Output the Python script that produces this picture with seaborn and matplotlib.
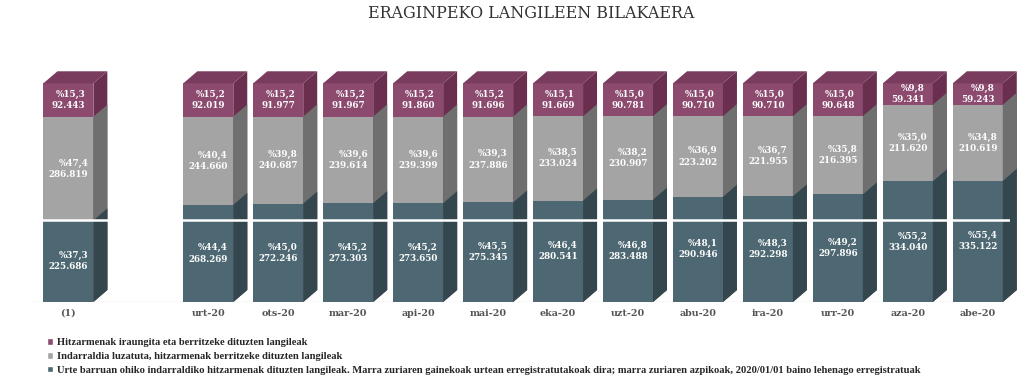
import pandas as pd
import matplotlib.pyplot as plt
import seaborn as sns
from matplotlib.patches import Polygon, Patch

# --- data ---
months = ["(1)", "urt-20", "ots-20", "mar-20", "api-20", "mai-20", "eka-20",
          "uzt-20", "abu-20", "ira-20", "urr-20", "aza-20", "abe-20"]
order = ["(1)", " "] + months[1:]

ohiko_n = [225686, 268269, 272246, 273303, 273650, 275345, 280541,
           283488, 290946, 292298, 297896, 334040, 335122]
ohiko_pct = [37.3, 44.4, 45.0, 45.2, 45.2, 45.5, 46.4, 46.8, 48.1, 48.3, 49.2, 55.2, 55.4]
luzatuta_n = [286819, 244660, 240687, 239614, 239399, 237886, 233024,
              230907, 223202, 221955, 216395, 211620, 210619]
luzatuta_pct = [47.4, 40.4, 39.8, 39.6, 39.6, 39.3, 38.5, 38.2, 36.9, 36.7, 35.8, 35.0, 34.8]
iraungita_n = [92443, 92019, 91977, 91967, 91860, 91696, 91669,
               90781, 90710, 90710, 90648, 59341, 59243]
iraungita_pct = [15.3, 15.2, 15.2, 15.2, 15.2, 15.2, 15.1, 15.0, 15.0, 15.0, 15.0, 9.8, 9.8]

labels = ["Hitzarmenak iraungita eta berritzeke dituzten langileak",
          "Indarraldia luzatuta, hitzarmenak berritzeke dituzten langileak",
          "Urte barruan ohiko indarraldiko hitzarmenak dituzten langileak. Marra zuriaren "
          "gainekoak urtean erregistratutakoak dira; marra zuriaren azpikoak, 2020/01/01 "
          "baino lehenago erregistratuak"]

# front, side, top colours per layer
col_top = ("#8b4a6e", "#6a2f4e", "#7a3c5e")
col_mid = ("#a4a4a4", "#6f6f6f")
col_bot = ("#4e6873", "#34474f")

df = pd.DataFrame({"month": months})
df["bot"] = ohiko_pct
df["mid"] = [a + b for a, b in zip(ohiko_pct, luzatuta_pct)]
df["top"] = [a + b + c for a, b, c in zip(ohiko_pct, luzatuta_pct, iraungita_pct)]

sns.set_theme(style="white")
plt.rcParams["font.family"] = ["Liberation Serif", "DejaVu Serif"]

fig = plt.figure(figsize=(10.24, 3.83), dpi=100)
ax = fig.add_axes([32 / 1024, 81 / 383, 978 / 1024, 234 / 383])

dx, dy = 0.2, 5.5  # depth of the 3D look

layers = [("top", col_top), ("mid", col_mid), ("bot", col_bot)]
for col, colors in layers:
    n0 = len(ax.patches)
    sns.barplot(data=df, x="month", y=col, order=order, color=colors[0],
                saturation=1, width=0.714, linewidth=0, ax=ax, zorder=2)
    for p in ax.patches[n0:n0 + len(months)]:
        x0, w, h = p.get_x(), p.get_width(), p.get_height()
        x1 = x0 + w
        side = Polygon([(x1, 0), (x1 + dx, dy), (x1 + dx, h + dy), (x1, h)],
                       closed=True, facecolor=colors[1], edgecolor="none",
                       zorder=2, clip_on=False)
        ax.add_patch(side)
        if col == "top":
            cap = Polygon([(x0, h), (x1, h), (x1 + dx, h + dy), (x0 + dx, h + dy)],
                          closed=True, facecolor=colors[2], edgecolor="none",
                          zorder=2, clip_on=False)
            ax.add_patch(cap)

# white line: level of the registrations before 2020/01/01
ax.axhline(ohiko_pct[0], color="white", lw=1.8, zorder=3)
ax.axhline(0, color="#dcdcdc", lw=1, zorder=1)


def fmt(p, n):
    return ("%" + f"{p:.1f}".replace(".", ",") + "\n" + f"{n:,}".replace(",", "."))


pos = {m: order.index(m) for m in months}
for i, m in enumerate(months):
    segs = [(0, ohiko_pct[i], ohiko_n[i]),
            (ohiko_pct[i], luzatuta_pct[i], luzatuta_n[i]),
            (ohiko_pct[i] + luzatuta_pct[i], iraungita_pct[i], iraungita_n[i])]
    for b, p, n in segs:
        ax.text(pos[m], b + p / 2, fmt(p, n), ha="center", va="center",
                multialignment="right", color="white", fontsize=6.3,
                fontweight="bold", linespacing=1.3, zorder=5,
                family=["DejaVu Serif"])

ax.set_xlim(-0.52, 13.46)
ax.set_ylim(0, 107)
ax.set_yticks([])
ax.set_xlabel("")
ax.set_ylabel("")
sns.despine(ax=ax, left=True, bottom=True)
ax.tick_params(axis="x", length=0, pad=5)
for t in ax.get_xticklabels():
    t.set_fontsize(6.9)
    t.set_fontweight("bold")
    t.set_color("#555555")
    t.set_family(["DejaVu Serif"])

fig.text(531 / 1024, 1 - 13 / 383, "ERAGINPEKO LANGILEEN BILAKAERA",
         ha="center", va="center", fontsize=11.4, color="#333333",
         family=["DejaVu Serif"])

handles = [Patch(facecolor=col_top[0]), Patch(facecolor=col_mid[0]), Patch(facecolor=col_bot[0])]
fig.legend(handles, labels, loc="upper left", bbox_to_anchor=(0.046, 1 - 338 / 383),
           frameon=False, handlelength=0.6, handleheight=0.6,
           handletextpad=0.3, labelspacing=0.45, borderaxespad=0, borderpad=0,
           prop={"weight": "bold", "size": 7.6})

fig.savefig("out.png", dpi=100)
